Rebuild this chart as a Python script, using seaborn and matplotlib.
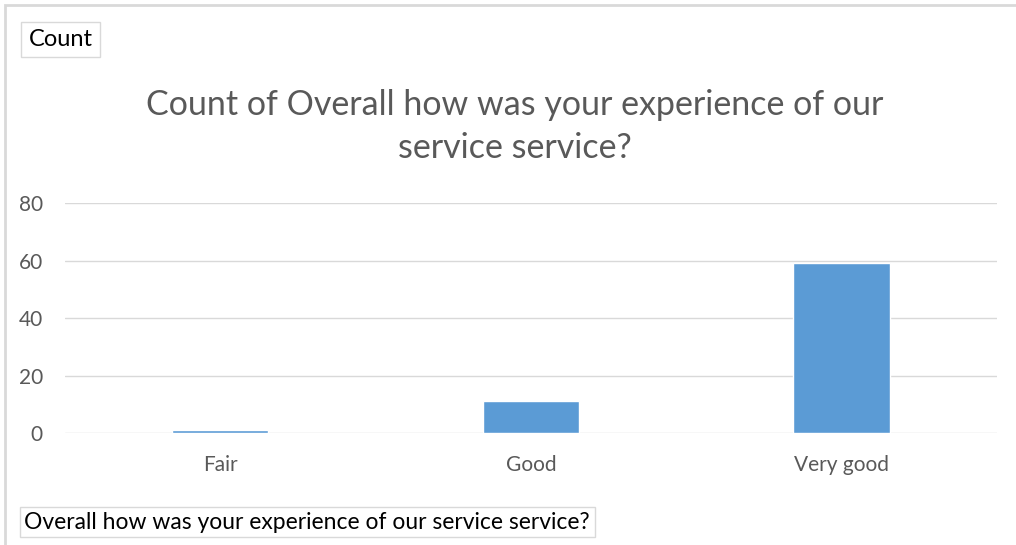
import matplotlib
matplotlib.use("Agg")
import matplotlib.pyplot as plt
import seaborn as sns
import pandas as pd
from matplotlib.patches import Rectangle

categories = ["Fair", "Good", "Very good"]
counts = [1, 11, 59]
y_ticks = [0, 20, 40, 60, 80]

df = pd.DataFrame({"rating": categories, "count": counts})

sns.set_theme(style="white")
plt.rcParams["font.family"] = ["Lato", "DejaVu Sans"]

grey = "#595959"
line_grey = "#d9d9d9"

fig = plt.figure(figsize=(10.16, 5.45), dpi=100)
ax = fig.add_axes([0.064, 0.2055, 0.917, 0.422])

sns.barplot(data=df, x="rating", y="count", color="#5b9bd5", saturation=1,
            width=0.31, ax=ax)

ax.set_xlim(-0.5, 2.5)
ax.set_ylim(0, 80)
ax.set_yticks(y_ticks)
for t in y_ticks:
    ax.axhline(t, color=line_grey, lw=1, zorder=0)
ax.set_axisbelow(True)
for s in ax.spines.values():
    s.set_visible(False)
ax.tick_params(axis="both", length=0, colors=grey)
ax.tick_params(axis="y", pad=16, labelsize=15)
ax.tick_params(axis="x", pad=16, labelsize=15)
ax.set_xlabel("")
ax.set_ylabel("")

fig.text(0.507, 0.768, "Count of Overall how was your experience of our\nservice service?",
         ha="center", va="center", fontsize=24.5, color=grey, linespacing=1.45)

# outer chart border
fig.patches.append(Rectangle((0.005, -0.01), 1.0, 1.0, transform=fig.transFigure,
                             fill=False, edgecolor=line_grey, lw=2))

# field buttons
fig.text(0.028, 0.927, "Count", ha="left", va="center", fontsize=17, color="black",
         bbox=dict(boxstyle="square,pad=0.3", fc="white", ec=line_grey, lw=1))
fig.text(0.024, 0.042, "Overall how was your experience of our service service?",
         ha="left", va="center", fontsize=16.5, color="black",
         bbox=dict(boxstyle="square,pad=0.2", fc="white", ec=line_grey, lw=1))

fig.savefig("out.png", dpi=100)
